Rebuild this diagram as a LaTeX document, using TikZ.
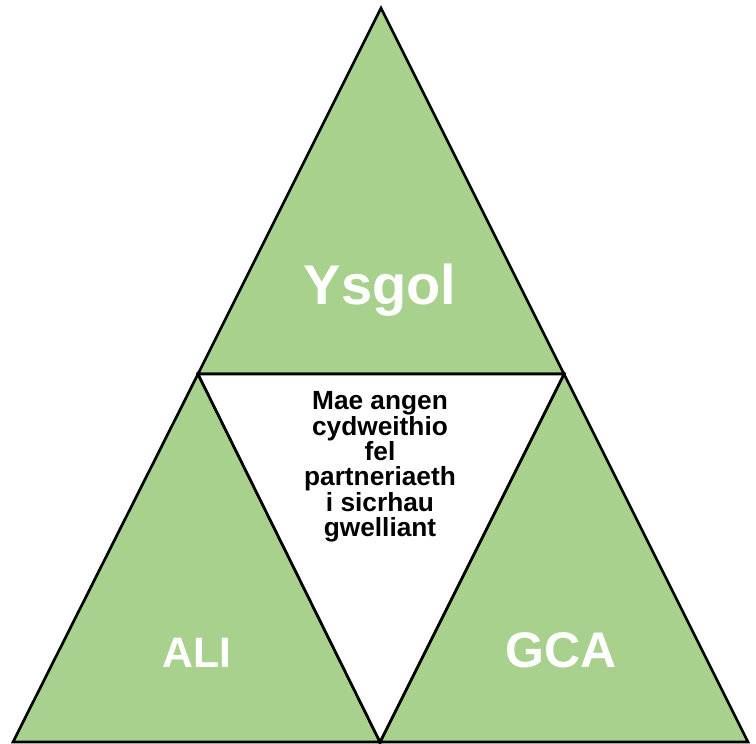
\documentclass[tikz,border=0pt]{standalone}
\usepackage{fontspec}
\setmainfont{Liberation Sans}
\usepackage{xcolor}
\usetikzlibrary{positioning}
\definecolor{trigreen}{HTML}{A9D18E}

\begin{document}
\begin{tikzpicture}[
    x=0.75pt, y=-0.75pt,
    tri/.style={draw, line width=2pt, fill=trigreen, line join=miter},
    hole/.style={draw, line width=2pt, fill=white},
    partname/.style={font=\bfseries, text=white, inner sep=0pt, anchor=base},
    note/.style={font=\bfseries\fontsize{19.7}{19}\selectfont, align=center, inner sep=0pt}
]
\useasboundingbox (0,0) rectangle (756,743);
\coordinate (top) at (381,8);
\coordinate (ml) at (198,374);
\coordinate (mr) at (564,374);
\coordinate (mb) at (380,742);
\coordinate (bl) at (13,742);
\coordinate (br) at (748,742);
% three green triangles and the white one between them
\draw[tri] (top) -- (ml) -- (mr) -- cycle;
\draw[tri] (ml) -- (bl) -- (mb) -- cycle;
\draw[tri] (mr) -- (mb) -- (br) -- cycle;
\draw[hole] (ml) -- (mr) -- (mb) -- cycle;
\node[partname, font=\bfseries\fontsize{42}{42}\selectfont] (ysgol) at (380,304) {Ysgol};
\node[partname, font=\bfseries\fontsize{32}{32}\selectfont] (ali) at (197,667) {ALI};
\node[partname, font=\bfseries\fontsize{37.5}{37.5}\selectfont] (gca) at (561,667) {GCA};
\node[note] (aim) at (380,467) {Mae angen\\ cydweithio\\ fel\\ partneriaeth\\ i sicrhau\\ gwelliant};
\end{tikzpicture}
\end{document}
